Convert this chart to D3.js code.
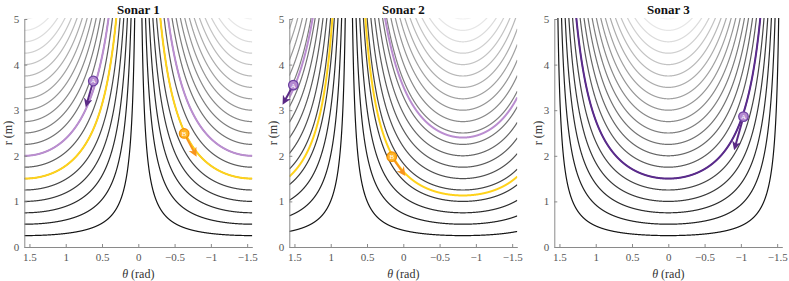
<!DOCTYPE html>
<html>
<head>
<meta charset="utf-8">
<script src="https://cdn.jsdelivr.net/npm/d3@7"></script>
<style>
  body { margin: 0; background: #fff; }
  svg text { font-family: "Liberation Serif", "DejaVu Serif", serif; }
</style>
</head>
<body>
<div id="chart"></div>
<script>
// données
const sonars = ["Sonar 1", "Sonar 2", "Sonar 3"];
const sonarAngles = [0, 0.75, Math.PI / 2];          // orientation du mur vu par chaque sonar
const distances = [0.25, 0.5, 0.75, 1, 1.25, 1.5, 1.75, 2, 2.25, 2.5, 2.75, 3,
                   3.25, 3.5, 3.75, 4, 4.25, 4.5, 4.75, 5];
const wallA = [2, 2.4, 1.5];       // courbe violette
const wallB = [1.5, 1.13, null];   // courbe jaune
// [theta, r, theta fin flèche, r fin flèche]
const markerA = [[0.62, 3.64, 0.71, 3.14], [1.515, 3.55, 1.64, 3.19], [-1.036, 2.86, -0.92, 2.2]];
const markerB = [[-0.632, 2.49, -0.78, 2.05], [0.159, 1.98, 0.0, 1.62], null];
const xTicks = [1.5, 1, 0.5, 0, -0.5, -1, -1.5];
const yTicks = [0, 1, 2, 3, 4, 5];

const W = 789, H = 281;
const panelX = [24.3, 289.3, 554.3];
const pw = 228, yTop = 19, yBot = 247;

const svg = d3.select("#chart").append("svg")
    .attr("width", W).attr("height", H);

const defs = svg.append("defs");
function arrowHead(id, color) {
    defs.append("marker")
        .attr("id", id)
        .attr("viewBox", "0 0 10 10")
        .attr("refX", 6).attr("refY", 5)
        .attr("markerWidth", 4.5).attr("markerHeight", 4.5)
        .attr("orient", "auto-start-reverse")
        .append("path")
        .attr("d", "M0,0 L10,5 L0,10 L3,5 Z")
        .attr("fill", color);
}
arrowHead("arrA1", "#5b2a86");
arrowHead("arrB1", "#f7941d");

const gray = d3.scaleLinear().domain([0.25, 5]).range(["#151515", "#f2f2f2"]);
const thetas = d3.range(-Math.PI / 2, Math.PI / 2 + 0.0005, 0.001);
const fmt = v => (v < 0 ? "\u2212" + Math.abs(v) : "" + v);

sonars.forEach((name, i) => {
    const x = d3.scaleLinear().domain([Math.PI / 2, -Math.PI / 2]).range([panelX[i], panelX[i] + pw]);
    const y = d3.scaleLinear().domain([0, 5]).range([yBot, yTop]);
    const phi = sonarAngles[i];
    const g = svg.append("g");

    g.append("clipPath").attr("id", "clip" + i)
        .append("rect")
        .attr("x", panelX[i]).attr("y", yTop - 1)
        .attr("width", pw).attr("height", yBot - yTop + 1);

    const plot = g.append("g").attr("clip-path", "url(#clip" + i + ")");

    const rOf = (d, t) => d / Math.abs(Math.sin(t - phi));
    const line = d3.line()
        .defined(p => p[1] < 6)
        .x(p => x(p[0])).y(p => y(p[1]));
    const pts = d => thetas.map(t => [t, rOf(d, t)]);

    plot.selectAll("path.fam").data(distances).join("path")
        .attr("class", "fam")
        .attr("d", d => line(pts(d)))
        .attr("fill", "none")
        .attr("stroke", d => gray(d))
        .attr("stroke-width", 1.2);

    if (wallB[i] != null) {
        plot.append("path").attr("d", line(pts(wallB[i])))
            .attr("fill", "none").attr("stroke", "#ffd21a").attr("stroke-width", 2);
    }
    plot.append("path").attr("d", line(pts(wallA[i])))
        .attr("fill", "none")
        .attr("stroke", i === 2 ? "#5a2a8c" : "#ba8dd0")
        .attr("stroke-width", 2);

    // axes
    const xAxis = d3.axisBottom(x).tickValues(xTicks).tickFormat(fmt)
        .tickSizeInner(-3).tickSizeOuter(0).tickPadding(6);
    const yAxis = d3.axisLeft(y).tickValues(yTicks).tickFormat(fmt)
        .tickSizeInner(-3).tickSizeOuter(0).tickPadding(5);
    const ax = g.append("g").attr("transform", `translate(0,${yBot})`).call(xAxis);
    const ay = g.append("g").attr("transform", `translate(${panelX[i]},0)`).call(yAxis);
    [ax, ay].forEach(a => {
        a.attr("font-family", null);
        a.select(".domain").attr("stroke", "#8a8a8a");
        a.selectAll(".tick line").attr("stroke", "#8a8a8a");
        a.selectAll(".tick text").attr("fill", "#555").style("font-size", "11px")
            .style("font-family", "'Liberation Serif', serif");
    });

    g.append("text")
        .attr("x", panelX[i] + pw / 2).attr("y", 14)
        .attr("text-anchor", "middle")
        .attr("font-weight", "bold").attr("font-size", 13)
        .attr("fill", "#111")
        .text(name);

    const xl = g.append("text")
        .attr("x", panelX[i] + pw / 2).attr("y", 278)
        .attr("text-anchor", "middle").attr("font-size", 12).attr("fill", "#333");
    xl.append("tspan").attr("font-style", "italic").text("\u03b8");
    xl.append("tspan").text(" (rad)");

    g.append("text")
        .attr("transform", `translate(${panelX[i] - 12},${(yTop + yBot) / 2}) rotate(-90)`)
        .attr("text-anchor", "middle").attr("font-size", 12).attr("fill", "#333")
        .text("r (m)");

    // repères A et B
    function marker(m, label, fill, stroke, arrowColor, arrowId) {
        if (!m) return;
        const x0 = x(m[0]), y0 = y(m[1]), x1 = x(m[2]), y1 = y(m[3]);
        const dx = x1 - x0, dy = y1 - y0, L = Math.hypot(dx, dy);
        g.append("line")
            .attr("x1", x0 + dx / L * 5).attr("y1", y0 + dy / L * 5)
            .attr("x2", x1).attr("y2", y1)
            .attr("stroke", arrowColor).attr("stroke-width", 2)
            .attr("marker-end", "url(#" + arrowId + ")");
        g.append("circle").attr("cx", x0).attr("cy", y0).attr("r", 4.8)
            .attr("fill", fill).attr("stroke", stroke).attr("stroke-width", 1.2);
        g.append("text").attr("x", x0).attr("y", y0 + 2.4)
            .attr("text-anchor", "middle").attr("font-size", 7)
            .attr("font-family", "'Liberation Sans', sans-serif")
            .attr("fill", "#fff").text(label);
    }
    marker(markerA[i], "A", "#b48ad0", "#6b3fa0", "#5b2a86", "arrA1");
    marker(markerB[i], "B", "#ffb52a", "#f39200", "#f7941d", "arrB1");
});
</script>
</body>
</html>
